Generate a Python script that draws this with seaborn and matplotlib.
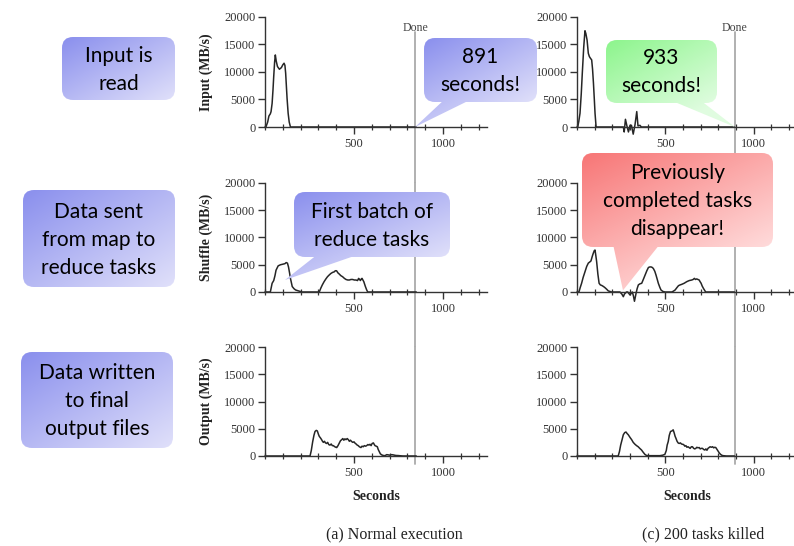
import numpy as np
import matplotlib
matplotlib.use("Agg")
import matplotlib.pyplot as plt
from matplotlib.patches import FancyBboxPatch, Polygon
from matplotlib.ticker import FixedLocator, MultipleLocator
import seaborn as sns

sns.set_theme(style="ticks")
plt.rcParams['font.family'] = ['Liberation Serif', 'DejaVu Serif']

# ---- data (seconds, MB/s) ----
normal_input_t = [0, 5, 15, 22, 30, 34, 40, 45, 49, 54, 58, 63, 70, 81, 92, 100, 107, 112, 116, 120, 124, 130, 136, 143, 850]
normal_input_v = [0, 0, 900, 2000, 2400, 2800, 4300, 6800, 9200, 11800, 13100, 12000, 11000, 10500, 10800, 11300, 11600, 11200, 9800, 7500, 5200, 2500, 900, 0, 0]

killed_input_t = [0, 4, 10, 17, 24, 30, 38, 45, 50, 57, 64, 70, 76, 83, 88, 93, 98, 102, 108,
                  262, 267, 274, 283, 291, 300, 308, 318, 328, 338, 345, 356, 364, 890]
killed_input_v = [0, 0, 1000, 2500, 6000, 9800, 14500, 17500, 17000, 15800, 13400, 12800, 12500, 12200, 10500, 8000, 5000, 2500, 0,
                  0, -900, 1400, 100, -900, 300, 300, -1300, 400, 2800, 200, 300, 0, 0]

normal_shuffle_t = [0, 30, 40, 49, 56, 62, 74, 87, 100, 112, 119, 126, 132, 138, 143, 153, 163, 172, 190, 209,
                    305, 313, 322, 332, 342, 351, 360, 370, 380, 389, 395, 402, 410, 417, 426, 436, 446, 455,
                    465, 474, 483, 492, 502, 511, 520, 526, 531, 536, 541, 545, 550, 555, 564, 571, 577, 850]
normal_shuffle_v = [0, 0, 1600, 2100, 3000, 4000, 4800, 5000, 5100, 5200, 5400, 5300, 4600, 3500, 2500, 1000, 600, 370, 180, 0,
                    0, 670, 1300, 1900, 2400, 2800, 3100, 3400, 3600, 3700, 3900, 3900, 3500, 3300, 3000, 2800, 2500, 2300,
                    2200, 2200, 2300, 2300, 2200, 2200, 2100, 2500, 2300, 2100, 2400, 2500, 2200, 1900, 1000, 400, 0, 0]

killed_shuffle_t = [0, 11, 18, 26, 35, 45, 55, 64, 72, 79, 86, 92, 98, 102, 106, 111, 118, 125, 132, 140, 150, 158, 168, 177, 196,
                    243, 254, 262, 268, 272, 280, 287, 294, 300, 307, 313, 319, 325, 330, 334, 340, 347, 356, 366, 375,
                    385, 395, 404, 412, 419, 426, 432, 440, 447, 454, 460, 468, 475, 486, 498,
                    536, 545, 555, 565, 574, 583, 592, 606, 621, 635, 649, 657, 664, 670, 677, 684, 691, 696, 702, 708, 715, 722, 728, 890]
killed_shuffle_v = [0, 0, 800, 1600, 2700, 3700, 4700, 5300, 5500, 5700, 6500, 7100, 7600, 7700, 6800, 5600, 3300, 1600, 1300, 1200, 1000, 800, 500, 200, 0,
                    0, -400, -860, -400, -250, 0, 0, -300, -550, -200, 0, -700, -1700, -900, -250, 600, 1300, 1500, 1600, 2300,
                    3100, 3900, 4500, 4600, 4600, 4500, 4300, 3800, 3100, 2300, 1600, 900, 370, 100, 0,
                    0, 150, 370, 800, 1160, 1300, 1400, 1600, 1900, 2100, 2200, 2300, 2500, 2300, 2400, 2300, 2200, 1900, 1600, 1100, 670, 300, 0, 0]

normal_output_t = [0, 253, 260, 268, 275, 281, 288, 294, 300, 305, 312, 318, 323, 328, 334, 340, 346, 352, 358, 365, 372, 378,
                   384, 392, 398, 403, 410, 417, 424, 431, 437, 443, 449, 455, 462, 468, 474, 480, 487, 493, 500, 506,
                   512, 518, 524, 530, 539, 545, 552, 558, 565, 571, 578, 584, 590, 596, 602, 609, 614, 618, 625, 631,
                   636, 642, 648, 656, 664, 674, 684, 693, 703, 712, 721, 735, 748, 758, 775, 850]
normal_output_v = [0, 0, 1000, 2650, 3800, 4500, 4700, 4600, 4000, 3600, 3300, 3000, 2700, 2500, 2700, 2400, 2300, 2500, 2100, 2000, 2200, 1900,
                   1900, 1700, 1600, 1550, 1900, 2350, 2800, 3000, 3200, 2900, 3150, 3000, 3200, 3000, 2700, 2900, 2650, 2500, 2600, 2350,
                   2200, 2000, 1900, 1700, 1550, 1800, 1700, 1900, 1800, 1900, 2100, 2000, 2150, 1900, 2300, 2400, 2100, 1900, 1800, 1700,
                   1200, 800, 400, 200, 100, 60, 250, 200, 150, 250, 200, 100, 80, 50, 0, 0]

killed_output_t = [0, 233, 240, 247, 255, 262, 270, 277, 284, 290, 300, 309, 318, 328, 337, 346, 355, 365, 374, 384, 393, 403,
                   430, 469, 485, 497, 505, 510, 516, 522, 529, 537, 544, 550, 555, 559, 566, 572, 578, 585, 591, 597,
                   603, 610, 616, 622, 628, 634, 640, 647, 653, 660, 666, 672, 678, 684, 691, 697, 703, 710, 716, 723,
                   729, 735, 741, 747, 753, 760, 767, 773, 779, 785, 792, 798, 805, 812, 820, 827, 846, 890]
killed_output_v = [0, 0, 800, 2000, 3000, 3900, 4300, 4400, 4100, 3900, 3400, 3000, 2500, 2150, 1900, 1700, 1400, 1100, 700, 300, 100, 60,
                   60, 60, 150, 300, 1000, 2000, 2650, 3800, 4500, 4600, 4800, 4200, 3600, 3300, 2700, 2400, 2300, 2400, 2200, 2150,
                   2100, 1800, 1900, 1600, 1700, 1550, 1400, 1700, 1700, 1400, 1300, 1400, 1600, 1500, 1550, 1300, 1400, 1400, 1200, 1100,
                   1300, 1050, 1400, 1550, 1700, 1600, 1700, 1500, 1600, 1550, 1200, 900, 550, 300, 120, 60, 0, 0]

done_normal = 843
done_killed = 893

row_labels = ["Input (MB/s)", "Shuffle (MB/s)", "Output (MB/s)"]
captions = ["(a) Normal execution", "(c) 200 tasks killed"]
series = [
    [(normal_input_t, normal_input_v), (normal_shuffle_t, normal_shuffle_v), (normal_output_t, normal_output_v)],
    [(killed_input_t, killed_input_v), (killed_shuffle_t, killed_shuffle_v), (killed_output_t, killed_output_v)],
]
done_times = [done_normal, done_killed]

# ---- layout in pixels ----
W, H = 794, 546
fig = plt.figure(figsize=(W / 100, H / 100), dpi=100)
row_top = [17, 183, 347]
row_zero = [127, 292, 456]
col_x0 = [265, 577]
col_w = [222.5, 221]
line_span = [(-0.56, 0.86), (-0.56, 1.0), (-0.07, 1.0)]
axes = [[None] * 3 for _ in range(2)]

for c in range(2):
    for r in range(3):
        ax = fig.add_axes([col_x0[c] / W, (H - row_zero[r]) / H, col_w[c] / W,
                           (row_zero[r] - row_top[r]) / H])
        axes[c][r] = ax
        t, v = series[c][r]
        sns.lineplot(x=t, y=v, ax=ax, color='#262626', linewidth=1.1, estimator=None, sort=False)
        for ln in ax.lines:
            ln.set_clip_on(False)
        ax.set_xlim(0, 1250)
        ax.set_ylim(0, 20000)
        ax.set_yticks([0, 5000, 10000, 15000, 20000])
        ax.xaxis.set_major_locator(FixedLocator([500, 1000]))
        ax.xaxis.set_minor_locator(MultipleLocator(100))
        sns.despine(ax=ax)
        for s in ['left', 'bottom']:
            ax.spines[s].set_linewidth(1.0)
            ax.spines[s].set_color('#333333')
        ax.tick_params(axis='y', direction='out', length=5, width=1, labelsize=9, pad=2,
                       color='#333333', labelcolor='#333333')
        ax.tick_params(axis='x', which='major', direction='out', length=5, width=1, labelsize=9,
                       pad=3, color='#333333', labelcolor='#333333')
        ax.tick_params(axis='x', which='minor', direction='inout', length=4, width=0.9, color='#333333')
        ax.set_xlabel("")
        ax.set_ylabel("")
        lo, hi = line_span[r]
        ax.axvline(done_times[c], ymin=lo, ymax=hi, color='#aaaaaa', linewidth=1.3,
                   clip_on=False, zorder=1)
        if r == 0:
            ax.text(done_times[c], 0.9, "Done", transform=ax.get_xaxis_transform(),
                    ha='center', va='center', fontsize=8.5, color='#444444')
        if c == 0:
            ax.set_ylabel(row_labels[r], fontsize=10, fontweight='bold', labelpad=8, color='#222222')
        if r == 2:
            ax.set_xlabel("Seconds", fontsize=10, fontweight='bold', labelpad=8, color='#222222')

fig.text(394 / W, (H - 534) / H, captions[0], ha='center', va='center', fontsize=11.5, color='#222222')
fig.text(703 / W, (H - 534) / H, captions[1], ha='center', va='center', fontsize=11.5, color='#222222')

# ---- callout overlay (pixel coordinates, y down) ----
ov = fig.add_axes([0, 0, 1, 1], zorder=10)
ov.set_xlim(0, W)
ov.set_ylim(H, 0)
ov.axis('off')

BLUE = ((0.54, 0.56, 0.93), (0.88, 0.88, 0.98))
GREEN = ((0.55, 0.96, 0.55), (0.88, 0.99, 0.88))
RED = ((0.97, 0.46, 0.46), (1.0, 0.86, 0.86))


def to_ov(ax, x, y):
    d = ax.transData.transform((x, y))
    return ov.transData.inverted().transform(d)


def callout(text, box, colors, tail=None, tip=None):
    x0, y0, x1, y1 = box
    patch = FancyBboxPatch((x0, y0), x1 - x0, y1 - y0,
                           boxstyle="round,pad=0,rounding_size=11", fc='none', ec='none')
    ov.add_patch(patch)
    shapes = [patch]
    gx0, gx1, gy0, gy1 = x0, x1, y0, y1
    if tip is not None:
        tri = Polygon([(tail[0], y1 - 3), (tail[1], y1 - 3), tuple(tip)], closed=True, fc='none', ec='none')
        ov.add_patch(tri)
        shapes.append(tri)
        gx0, gx1 = min(x0, tip[0]), max(x1, tip[0])
        gy1 = max(y1, tip[1])
    n = 150
    X, Y = np.meshgrid(np.linspace(gx0, gx1, n), np.linspace(gy0, gy1, n))
    frac = np.clip(((X - x0) / (x1 - x0) + (Y - y0) / (y1 - y0)) / 2, 0, 1)[..., None]
    img = (1 - frac) * np.array(colors[0]) + frac * np.array(colors[1])
    for s in shapes:
        im = ov.imshow(img, extent=(gx0, gx1, gy1, gy0), origin='upper', aspect='auto',
                       interpolation='bilinear', zorder=1)
        im.set_clip_path(s)
    ov.text((x0 + x1) / 2, (y0 + y1) / 2 + 1, text, ha='center', va='center', fontsize=15,
            linespacing=1.5, family=['Lato', 'DejaVu Sans'], color='black', zorder=2)


callout("Input is\nread", (62, 37, 175, 100), BLUE)
callout("Data sent\nfrom map to\nreduce tasks", (23, 190, 175, 287), BLUE)
callout("Data written\nto final\noutput files", (21, 352, 173, 448), BLUE)
callout("891\nseconds!", (424, 38, 537, 102), BLUE, tail=(445, 472),
        tip=to_ov(axes[0][0], done_normal, 0))
callout("933\nseconds!", (606, 40, 717, 103), GREEN, tail=(670, 700),
        tip=to_ov(axes[1][0], done_killed, 0))
callout("First batch of\nreduce tasks", (294, 192, 450, 257), BLUE, tail=(318, 360),
        tip=to_ov(axes[0][1], 112, 2200))
callout("Previously\ncompleted tasks\ndisappear!", (582, 153, 773, 247), RED, tail=(613, 660),
        tip=to_ov(axes[1][1], 260, 300))

ov.set_xlim(0, W)
ov.set_ylim(H, 0)

fig.savefig("out.png", dpi=100)
